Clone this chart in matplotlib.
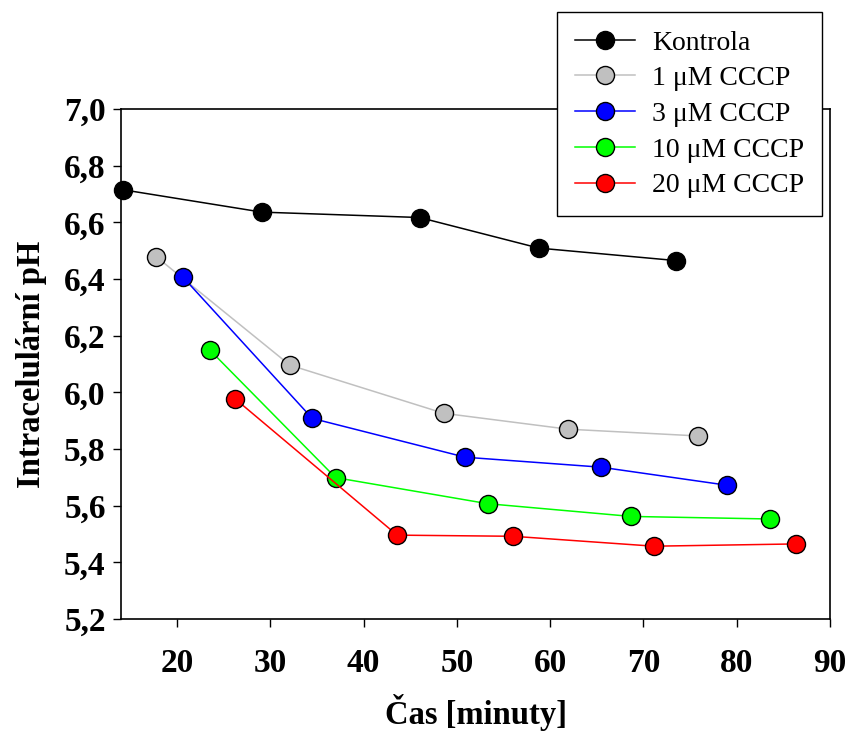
import matplotlib
matplotlib.use("Agg")
import matplotlib.pyplot as plt
from matplotlib.ticker import FuncFormatter, MultipleLocator

# Data
kontrola_x = [14.2, 29.1, 46.0, 58.8, 73.5]
kontrola_y = [6.715, 6.636, 6.617, 6.509, 6.465]
c1_x = [17.8, 32.1, 48.6, 61.9, 75.9]
c1_y = [6.478, 6.096, 5.926, 5.870, 5.846]
c3_x = [20.6, 34.5, 50.9, 65.4, 79.0]
c3_y = [6.408, 5.908, 5.771, 5.736, 5.672]
c10_x = [23.5, 37.0, 53.3, 68.7, 83.6]
c10_y = [6.150, 5.699, 5.607, 5.562, 5.553]
c20_x = [26.2, 43.6, 56.0, 71.1, 86.4]
c20_y = [5.978, 5.496, 5.492, 5.457, 5.465]

labels = ["Kontrola", "1 μM CCCP", "3 μM CCCP", "10 μM CCCP", "20 μM CCCP"]
colors = ["#000000", "#c0c0c0", "#0000ff", "#00ff00", "#ff0000"]
series = [(kontrola_x, kontrola_y), (c1_x, c1_y), (c3_x, c3_y), (c10_x, c10_y), (c20_x, c20_y)]

plt.rcParams['font.family'] = ['Liberation Serif', 'DejaVu Serif']

fig = plt.figure(figsize=(8.48, 7.31), dpi=100)
ax = fig.add_axes([0.1427, 0.1532, 0.8361, 0.6977])

for (x, y), c, lab in zip(series, colors, labels):
    ax.plot(x, y, color=c, lw=1.1, marker='o', markersize=13,
            markerfacecolor=c, markeredgecolor='black', markeredgewidth=1.0,
            label=lab, clip_on=False, zorder=3)

ax.set_xlim(14, 90)
ax.set_ylim(5.2, 7.0)
ax.set_xticks([20, 30, 40, 50, 60, 70, 80, 90])
ax.yaxis.set_major_locator(MultipleLocator(0.2))
ax.yaxis.set_major_formatter(FuncFormatter(lambda v, p: f"{v:.1f}".replace('.', ',')))
ax.tick_params(direction='out', length=6, width=1.0, labelsize=24, pad=5)
ax.tick_params(axis='x', pad=15)
for lbl in ax.get_xticklabels() + ax.get_yticklabels():
    lbl.set_fontweight('bold')
for s in ax.spines.values():
    s.set_linewidth(1.2)

ax.set_xlabel("Čas [minuty]", fontsize=23.5, fontweight='bold', labelpad=11)
ax.set_ylabel("Intracelulární pH", fontsize=23.5, fontweight='bold', labelpad=12)

leg = ax.legend(loc='upper right', bbox_to_anchor=(822/848, 1 - 12/731),
                bbox_transform=fig.transFigure, borderaxespad=0, fontsize=20, frameon=True,
                fancybox=False, edgecolor='black', framealpha=1,
                handlelength=2.15, labelspacing=0.37, borderpad=0.65, handletextpad=0.6)
leg.get_frame().set_linewidth(1.0)
leg.set_zorder(5)

fig.savefig("out.png", dpi=100)
